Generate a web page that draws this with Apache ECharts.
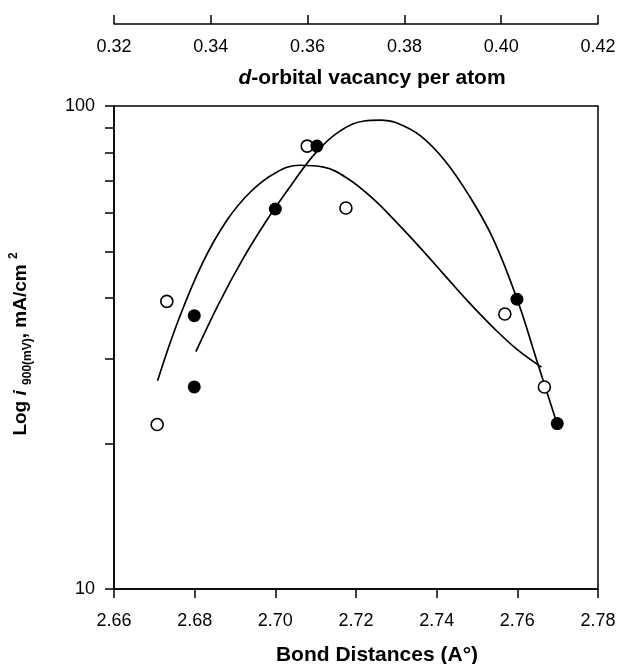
<!DOCTYPE html>
<html><head><meta charset="utf-8">
<script src="https://cdn.jsdelivr.net/npm/echarts@6/dist/echarts.min.js"></script>
<style>html,body{margin:0;padding:0;background:#fff}#c{width:619px;height:664px}</style>
</head><body><div id="c"></div>
<script>
// Bond distance axis (bottom) and d-orbital vacancy axis (top)
const bondRange = [2.66, 2.78];
const bondStep = 0.02;
const vacancyRange = [0.32, 0.42];
const vacancyStep = 0.02;
const currentRange = [10, 100];

// Open circles
const openX = [2.6707, 2.6731, 2.7079, 2.7175, 2.7569, 2.7667];
const openY = [21.9, 39.4, 82.6, 61.5, 37.1, 26.2];
// Filled circles
const filledX = [2.6799, 2.6799, 2.7000, 2.7103, 2.7599, 2.7699];
const filledY = [36.8, 26.2, 61.2, 82.6, 39.8, 22.0];

// Fitted curve through open circles
const curveAX = [2.6708, 2.676, 2.682, 2.688, 2.694, 2.700, 2.706, 2.712, 2.718, 2.724, 2.730, 2.736, 2.742, 2.748, 2.754, 2.760, 2.766];
const curveAY = [27.0, 36.1, 47.4, 58.0, 66.6, 72.7, 75.4, 74.7, 70.7, 64.5, 57.5, 50.8, 44.6, 39.2, 34.8, 31.3, 28.8];
// Fitted curve through filled circles
const curveBX = [2.6803, 2.686, 2.692, 2.698, 2.704, 2.710, 2.716, 2.722, 2.726, 2.730, 2.736, 2.742, 2.748, 2.754, 2.760, 2.765, 2.770];
const curveBY = [31.0, 39.0, 48.3, 58.2, 68.7, 80.0, 88.7, 93.1, 93.5, 92.3, 86.7, 77.1, 65.3, 53.1, 39.7, 29.4, 21.8];

const FONT = 'Liberation Sans, Arial, sans-serif';
const zip = (xs, ys) => xs.map((x, i) => [x, ys[i]]);
const black = '#000';
const lineW = 1.5;

const chart = echarts.init(document.getElementById('c'), null, {renderer: 'canvas'});
chart.setOption({
  animation: false,
  backgroundColor: '#fff',
  grid: [
    {left: 114, top: 106, width: 484, height: 483, show: true, borderColor: black, borderWidth: lineW, backgroundColor: 'transparent'},
    {left: 114, top: 24, width: 484, height: 1, show: false}
  ],
  xAxis: [
    {
      gridIndex: 0, type: 'value', position: 'bottom',
      min: bondRange[0], max: bondRange[1], interval: bondStep,
      axisLine: {show: true, onZero: false, lineStyle: {color: black, width: lineW}},
      axisTick: {show: true, inside: false, length: 9, lineStyle: {color: black, width: lineW}},
      axisLabel: {color: black, fontSize: 18, fontFamily: FONT, margin: 23, showMinLabel: true, showMaxLabel: true,
        formatter: v => v.toFixed(2)},
      splitLine: {show: false}
    },
    {
      gridIndex: 1, type: 'value', position: 'top',
      min: vacancyRange[0], max: vacancyRange[1], interval: vacancyStep,
      axisLine: {show: true, onZero: false, lineStyle: {color: black, width: lineW}},
      axisTick: {show: true, inside: false, length: 9, lineStyle: {color: black, width: lineW}},
      axisLabel: {inside: true, color: black, fontSize: 18, fontFamily: FONT, margin: 14, showMinLabel: true, showMaxLabel: true,
        formatter: v => v.toFixed(2)},
      splitLine: {show: false}
    }
  ],
  yAxis: [
    {
      gridIndex: 0, type: 'log', logBase: 10, min: currentRange[0], max: currentRange[1],
      axisLine: {show: true, onZero: false, lineStyle: {color: black, width: lineW}},
      axisTick: {show: true, inside: false, length: 9, lineStyle: {color: black, width: lineW}},
      minorTick: {show: true, splitNumber: 9, length: 9, lineStyle: {color: black, width: lineW}},
      axisLabel: {color: black, fontSize: 18, fontFamily: FONT, margin: 19, showMinLabel: true, showMaxLabel: true},
      splitLine: {show: false}, minorSplitLine: {show: false}
    },
    {gridIndex: 1, type: 'value', show: false}
  ],
  series: [
    {type: 'line', xAxisIndex: 0, yAxisIndex: 0, data: zip(curveAX, curveAY), smooth: 0.4, showSymbol: false, symbol: 'none',
      lineStyle: {color: black, width: 1.7}, z: 2},
    {type: 'line', xAxisIndex: 0, yAxisIndex: 0, data: zip(curveBX, curveBY), smooth: 0.4, showSymbol: false, symbol: 'none',
      lineStyle: {color: black, width: 1.7}, z: 2},
    {type: 'scatter', xAxisIndex: 0, yAxisIndex: 0, data: zip(openX, openY), symbol: 'circle', symbolSize: 12,
      itemStyle: {color: '#fff', borderColor: black, borderWidth: 1.6, opacity: 1}, z: 3},
    {type: 'scatter', xAxisIndex: 0, yAxisIndex: 0, data: zip(filledX, filledY), symbol: 'circle', symbolSize: 13,
      itemStyle: {color: black, opacity: 1}, z: 4}
  ],
  graphic: [
    {type: 'text', x: 372, y: 78, style: {
      text: '{i|d}{b|-orbital vacancy per atom}', align: 'center', verticalAlign: 'middle', fill: black,
      rich: {
        i: {fontSize: 21, fontWeight: 'bold', fontStyle: 'italic', fontFamily: FONT, fill: black},
        b: {fontSize: 21, fontWeight: 'bold', fontFamily: FONT, fill: black}
      }}},
    {type: 'text', x: 377, y: 655, style: {
      text: 'Bond Distances (A°)', align: 'center', verticalAlign: 'middle', fill: black,
      font: 'bold 21px ' + FONT}},
    {type: 'text', x: 21, y: 344, rotation: Math.PI / 2, style: {
      text: '{b|Log }{i|i }{s|900(mV)}{b|, mA/cm }{p|2}', align: 'center', verticalAlign: 'middle', fill: black,
      rich: {
        b: {fontSize: 19, fontWeight: 'bold', fontFamily: FONT, lineHeight: 26, fill: black},
        i: {fontSize: 19, fontWeight: 'bold', fontStyle: 'italic', fontFamily: FONT, lineHeight: 26, fill: black},
        s: {fontSize: 12, fontWeight: 'bold', fontFamily: FONT, lineHeight: 13, verticalAlign: 'bottom', fill: black},
        p: {fontSize: 12, fontWeight: 'bold', fontFamily: FONT, lineHeight: 13, verticalAlign: 'top', fill: black}
      }}}
  ]
});
</script>
</body></html>
